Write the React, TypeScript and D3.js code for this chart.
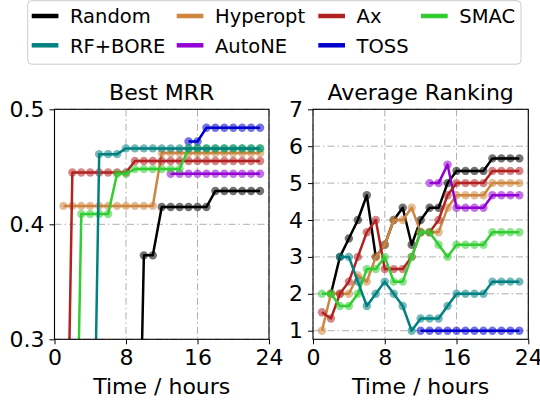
import React, { useRef, useEffect } from "react";
import * as d3 from "d3";

// hours at which each method was evaluated
const hours = [1, 2, 3, 4, 5, 6, 7, 8, 9, 10, 11, 12, 13, 14, 15, 16, 17, 18, 19, 20, 21, 22, 23];

const methods = ["Random", "RF+BORE", "Hyperopt", "AutoNE", "Ax", "TOSS", "SMAC"];
const colors = ["#000000", "#008080", "#cd853f", "#9400d3", "#b22222", "#0000cd", "#32cd32"];

// best MRR so far (0 = nothing found yet, falls below the axis)
const mrrRandom = [0, 0, 0, 0, 0, 0, 0, 0, 0, 0.373, 0.373, 0.415, 0.415, 0.415, 0.415, 0.415, 0.415, 0.429, 0.429, 0.429, 0.429, 0.429, 0.429];
const mrrRfBore = [0, 0, 0, 0, 0.461, 0.461, 0.461, 0.466, 0.466, 0.466, 0.466, 0.466, 0.466, 0.466, 0.466, 0.466, 0.466, 0.466, 0.466, 0.466, 0.466, 0.466, 0.466];
const mrrHyperopt = [0.416, 0.416, 0.416, 0.416, 0.416, 0.416, 0.416, 0.416, 0.416, 0.416, 0.416, 0.462, 0.462, 0.462, 0.462, 0.462, 0.462, 0.462, 0.462, 0.462, 0.462, 0.462, 0.462];
const mrrAutoNE = [null, null, null, null, null, null, null, null, null, null, null, null, 0.444, 0.444, 0.444, 0.444, 0.444, 0.444, 0.444, 0.444, 0.444, 0.444, 0.444];
const mrrAx = [0, 0.445, 0.445, 0.445, 0.445, 0.445, 0.445, 0.445, 0.455, 0.455, 0.455, 0.455, 0.455, 0.455, 0.455, 0.455, 0.455, 0.455, 0.455, 0.455, 0.455, 0.455, 0.455];
const mrrToss = [null, null, null, null, null, null, null, null, null, null, null, null, null, null, 0.472, 0.472, 0.484, 0.484, 0.484, 0.484, 0.484, 0.484, 0.484];
const mrrSmac = [0, 0, 0.409, 0.409, 0.409, 0.409, 0.444, 0.444, 0.448, 0.448, 0.448, 0.448, 0.448, 0.448, 0.466, 0.466, 0.466, 0.466, 0.466, 0.466, 0.466, 0.466, 0.466];

// average ranking
const rankRandom = [null, 2, 3, 3.5, 4, 4.67, 3, 3.33, 4, 4.33, 3.33, 4, 4.33, 4.33, 5, 5.33, 5.33, 5.33, 5.33, 5.67, 5.67, 5.67, 5.67];
const rankRfBore = [null, null, 3, 3, 2.33, 1.67, 2, 2.33, 2, 1.67, 1, 1.33, 1.33, 1.33, 1.67, 2, 2, 2, 2, 2.33, 2.33, 2.33, 2.33];
const rankHyperopt = [1, 2, 2, 2, 2.5, 2.33, 3, 3.33, 4, 4, 4.33, 3.67, 3.67, 3.67, 4.33, 4.67, 4.67, 4.67, 4.67, 5, 5, 5, 5];
const rankAutoNE = [null, null, null, null, null, null, null, null, null, null, null, null, 5, 5, 5.5, 4.33, 4.33, 4.33, 4.33, 4.67, 4.67, 4.67, 4.67];
const rankAx = [1.5, 1.33, 2, 2.33, 3, 3.67, 4, 2.67, 2.67, 2.67, 3, 3.67, 3.67, 4, 4.67, 5, 5, 5, 5, 5.33, 5.33, 5.33, 5.33];
const rankToss = [null, null, null, null, null, null, null, null, null, null, null, 1, 1, 1, 1, 1, 1, 1, 1, 1, 1, 1, 1];
const rankSmac = [2, 2, 1.67, 1.67, 2, 2.67, 2.67, 3, 2.33, 2.33, 3, 3.67, 3.67, 3.33, 3, 3.33, 3.33, 3.33, 3.33, 3.67, 3.67, 3.67, 3.67];

const timeTicks = [0, 8, 16, 24];
const mrrTicks = [0.3, 0.4, 0.5];
const rankTicks = [1, 2, 3, 4, 5, 6, 7];

const FONT = "'DejaVu Sans', sans-serif";

function App() {
  const svgRef = useRef<SVGSVGElement>(null);

  useEffect(() => {
    const svg = d3.select(svgRef.current);
    svg.selectAll("*").remove();
    const defs = svg.append("defs");
    // teal is drawn last so it sits on top, like the original
    const drawOrder = [0, 2, 3, 4, 5, 6, 1];
    const top = 109.3;
    const bottom = 339.3;

    function panel(id: string, left: number, right: number, title: string, yDomain: number[], yTicks: number[], series: (number | null)[][], fmt: (d: number) => string) {
      const x = d3.scaleLinear().domain([0, 24]).range([left, right]);
      const y = d3.scaleLinear().domain(yDomain).range([bottom, top]);
      const g = svg.append("g");

      // dash-dot grid
      g.selectAll(".vgrid")
        .data(timeTicks)
        .enter()
        .append("line")
        .attr("x1", (d) => x(d))
        .attr("x2", (d) => x(d))
        .attr("y1", top)
        .attr("y2", bottom)
        .attr("stroke", "#b0b0b0")
        .attr("stroke-width", 1)
        .attr("stroke-dasharray", "7,3,1.5,3");
      g.selectAll(".hgrid")
        .data(yTicks)
        .enter()
        .append("line")
        .attr("x1", left)
        .attr("x2", right)
        .attr("y1", (d) => y(d))
        .attr("y2", (d) => y(d))
        .attr("stroke", "#b0b0b0")
        .attr("stroke-width", 1)
        .attr("stroke-dasharray", "7,3,1.5,3");

      defs.append("clipPath").attr("id", id).append("rect")
        .attr("x", left).attr("y", top).attr("width", right - left).attr("height", bottom - top);
      const plot = g.append("g").attr("clip-path", `url(#${id})`);

      drawOrder.forEach((i) => {
        const pts = hours
          .map((h, k) => ({ t: h, v: series[i][k] }))
          .filter((d) => d.v !== null) as { t: number; v: number }[];
        plot.append("path")
          .attr("d", d3.line<{ t: number; v: number }>().x((d) => x(d.t)).y((d) => y(d.v))(pts))
          .attr("fill", "none")
          .attr("stroke", colors[i])
          .attr("stroke-width", 2.5)
          .attr("stroke-linejoin", "round");
        plot.selectAll(null)
          .data(pts)
          .enter()
          .append("circle")
          .attr("cx", (d) => x(d.t))
          .attr("cy", (d) => y(d.v))
          .attr("r", 4.2)
          .attr("fill", colors[i])
          .attr("fill-opacity", 0.55);
      });

      // axes
      const xAxis = g.append("g")
        .attr("transform", `translate(0,${bottom})`)
        .call(d3.axisBottom(x).tickValues(timeTicks).tickSize(5).tickPadding(5).tickFormat((d) => String(d)));
      const yAxis = g.append("g")
        .attr("transform", `translate(${left},0)`)
        .call(d3.axisLeft(y).tickValues(yTicks).tickSize(5).tickPadding(5).tickFormat((d) => fmt(+d)));
      [xAxis, yAxis].forEach((a) => {
        a.select(".domain").remove();
        a.selectAll("line").attr("stroke", "#000").attr("stroke-width", 1);
        a.selectAll("text").style("font", `22px ${FONT}`).attr("fill", "#000");
      });

      g.append("rect")
        .attr("x", left).attr("y", top).attr("width", right - left).attr("height", bottom - top)
        .attr("fill", "none").attr("stroke", "#000").attr("stroke-width", 1.1);

      g.append("text")
        .attr("x", (left + right) / 2).attr("y", 100)
        .attr("text-anchor", "middle")
        .style("font", `22px ${FONT}`)
        .text(title);
      g.append("text")
        .attr("x", (left + right) / 2).attr("y", 394)
        .attr("text-anchor", "middle")
        .style("font", `22px ${FONT}`)
        .text("Time / hours");
    }

    panel("clipMrr", 54.5, 269, "Best MRR", [0.3, 0.5], mrrTicks,
      [mrrRandom, mrrRfBore, mrrHyperopt, mrrAutoNE, mrrAx, mrrToss, mrrSmac], (d) => d.toFixed(1));
    panel("clipRank", 313, 528.3, "Average Ranking", [0.767, 7], rankTicks,
      [rankRandom, rankRfBore, rankHyperopt, rankAutoNE, rankAx, rankToss, rankSmac], (d) => String(d));

    // legend, filled column by column (2 rows)
    const leg = svg.append("g");
    leg.append("rect")
      .attr("x", 27.7).attr("y", 0.7).attr("width", 493.3).attr("height", 63.5)
      .attr("rx", 4).attr("fill", "#fff").attr("fill-opacity", 0.8)
      .attr("stroke", "#cccccc").attr("stroke-width", 1);
    const colX = [31.7, 176.7, 318.3, 421];
    const rowY = [16, 45.3];
    methods.forEach((m, i) => {
      const cx = colX[Math.floor(i / 2)];
      const ry = rowY[i % 2];
      leg.append("line")
        .attr("x1", cx).attr("x2", cx + 26.7)
        .attr("y1", ry).attr("y2", ry)
        .attr("stroke", colors[i]).attr("stroke-width", 4.5);
      leg.append("text")
        .attr("x", cx + 38.3).attr("y", ry + 7.3)
        .style("font", `19.5px ${FONT}`)
        .text(m);
    });
  }, []);

  return (
    <svg
      ref={svgRef}
      width={540}
      height={403}
      style={{ position: "absolute", left: 0, top: 0, background: "#fff", display: "block" }}
    ></svg>
  );
}

export default App;
